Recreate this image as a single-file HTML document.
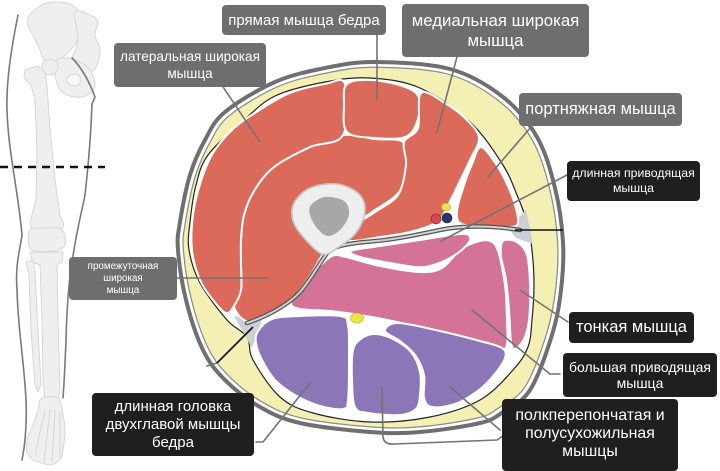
<!DOCTYPE html>
<html><head><meta charset="utf-8"><style>
html,body{margin:0;padding:0;background:#fff;}
body{width:720px;height:468px;overflow:hidden;position:relative;font-family:"Liberation Sans",Arial,sans-serif;}
svg{position:absolute;left:0;top:0;}
.b{position:absolute;color:#fff;text-align:center;border-radius:4px;display:flex;flex-direction:column;justify-content:center;align-items:center;white-space:nowrap;}
.g{background:#6e6e6e;}
.k{background:#1f1f1f;}
</style></head><body>
<svg width="720" height="468" viewBox="0 0 720 468" xmlns="http://www.w3.org/2000/svg">
<!-- leg skeleton -->
<g fill="#efefef" stroke="#d6d6d6" stroke-width="1">
<polygon class="s" points="28,18 40,6 55,2 72,5 80,15 80,35 72,48 62,58 52,62 44,60 38,45 30,30"/>
<polygon class="s" points="75,12 90,15 98,22 95,35 100,50 97,65 90,72 80,70 72,60 78,40"/>
<polygon class="s" points="55,62 65,58 80,62 90,70 95,85 88,95 75,97 62,92 56,80"/>
<ellipse cx="74" cy="80" rx="7" ry="6" fill="#f8f8f8"/>
<circle cx="50" cy="67" r="8"/>
<polygon points="25,70 38,66 45,72 47,85 50,130 55,180 60,215 64,225 60,232 45,235 32,232 30,222 36,200 37,150 35,100 31,85 24,78"/>
<polygon class="s" points="30,230 46,228 62,230 65,245 55,251 35,251 29,245"/>
<polygon points="30,252 63,252 62,262 57,265 58,320 60,390 58,400 45,400 43,380 42,320 40,265 32,262"/>
<polygon points="26,262 33,260 35,270 38,330 41,385 38,392 35,385 31,330 29,275"/>
<polygon class="s" points="42,398 58,398 62,410 65,430 62,455 57,462 50,465 42,463 33,460 27,452 27,440 33,425 38,410"/>
</g>
<g stroke="#d6d6d6" stroke-width="1" fill="none">
<path d="M45,410 L35,455 M50,410 L44,462 M55,410 L52,463 M60,412 L60,458"/>
</g>
<g stroke="#7a7a7a" stroke-width="1.6" fill="none" stroke-linecap="round">
<path d="M18,15 C12,45 6,80 7,110 C8,150 18,190 22,235 C20,250 15,265 17,290 C18,330 24,360 26,400 C27,425 25,445 22,460"/>
<path d="M72,58 C80,66 88,78 95,97 L92,104 C91,130 89,160 85,195 C81,215 77,230 74,250 C70,270 67,300 66,340 C65,365 64,385 63,398"/>
</g>
<line x1="0" y1="167" x2="105" y2="167" stroke="#111" stroke-width="2.5" stroke-dasharray="8 6"/>

<!-- cross-section rings -->
<polygon class="s" fill="#fff" stroke="#6f6f6f" stroke-width="4" stroke-linejoin="round" points="375,62 450,69 503,97 537,137 555,188 563,242 561,290 552,335 530,390 503,412 480,423 420,432 370,432 300,423 260,407 225,380 203,350 186,300 178,250 180,222 190,175 205,140 225,112 275,82 325,68"/>
<polygon class="s" fill="#f4f0b4" stroke="#8c8c8c" stroke-width="1.3" transform="translate(371 250) scale(0.972) translate(-371 -250)" points="375,62 450,69 503,97 537,137 555,188 563,242 561,290 552,335 530,390 503,412 480,423 420,432 370,432 300,423 260,407 225,380 203,350 186,300 178,250 180,222 190,175 205,140 225,112 275,82 325,68"/>
<polygon class="s" fill="#fff" stroke="#222" stroke-width="1.2" points="370,78 420,88 470,122 503,165 517,195 527,222 532,250 534,285 532,320 528,347 513,370 480,400 430,417 370,422 313,413 280,397 253,360 247,337 227,320 200,283 189,250 190,222 196,185 208,155 242,122 275,96 325,82"/>

<!-- gray fascia triangles -->
<polygon fill="#cbd0d3" points="508,228 526,210 533,244 516,238"/>
<polygon fill="#cbd0d3" points="234,316 262,320 252,348"/>

<!-- muscles -->
<g stroke="#fff" stroke-width="2" stroke-linejoin="round">
<!-- vastus intermedius -->
<polygon class="s" fill="#db6a5a" points="343,135 375,139 403,142 406,165 399,192 372,212 358,222 335,244 323,254 310,276 290,302 266,317 246,321 234,306 241,290 241,265 241,240 244,215 254,191 274,167 310,147"/>
<!-- vastus lateralis -->
<polygon class="s" fill="#db6a5a" points="345,84 325,84 290,93 258,111 233,129 213,153 201,181 193,215 192,250 200,280 213,300 226,313 234,306 241,290 241,265 241,240 244,215 254,191 274,167 310,147 343,135"/>
<!-- rectus femoris -->
<polygon class="s" fill="#db6a5a" points="347,84 372,80 405,87 419,98 417,122 405,137 375,138 347,132 344,105"/>
<!-- vastus medialis -->
<polygon class="s" fill="#db6a5a" points="421,93 445,103 467,120 479,138 470,160 458,185 448,205 437,222 410,232 380,237 352,241 346,236 360,222 375,212 398,195 406,165 404,142 418,128"/>
<!-- sartorius -->
<polygon class="s" fill="#db6a5a" points="481,147 496,164 507,184 515,205 518,223 510,227 490,226 462,224 457,212 463,188 472,164"/>
<!-- adductor magnus -->
<polygon class="s" fill="#d37398" points="332,256 346,257 380,266 420,272 442,268 460,250 476,242 490,241 498,251 505,285 507,320 507,344 500,349 470,339 430,330 397,322 360,315 330,311 300,309 291,303 300,290 316,270"/>
<!-- adductor longus -->
<polygon class="s" fill="#d37398" points="351,251 380,246 420,240 460,234 470,237 466,246 450,258 430,266 415,267 390,263 360,257"/>
<!-- gracilis -->
<polygon class="s" fill="#d37398" points="503,241 517,242 527,255 530,285 529,320 524,339 515,349 511,342 509,310 506,280 501,256"/>
<!-- biceps femoris -->
<polygon class="s" fill="#8b76b7" points="258,331 272,319 300,316 340,316 348,325 349,360 348,400 343,409 320,406 295,395 275,380 262,360 256,343"/>
<!-- semitendinosus -->
<polygon class="s" fill="#8b76b7" points="353,350 362,338 375,334 393,339 411,352 420,372 420,395 416,409 400,415 368,413 355,407 352,380"/>
<!-- semimembranosus -->
<polygon class="s" fill="#8b76b7" points="385,331 398,323 440,331 480,341 502,348 505,358 494,375 479,390 455,404 432,407 424,398 424,375 415,355 400,341"/>
</g>

<!-- fascia lines -->
<path d="M247,323 C262,318 285,308 300,292 C312,278 320,262 328,252 C336,246 345,244 365,242 C395,240 420,234 445,229 C470,225 495,226 520,230" fill="none" stroke="#555" stroke-width="4.5" stroke-linecap="round"/>
<path d="M247,323 C262,318 285,308 300,292 C312,278 320,262 328,252 C336,246 345,244 365,242 C395,240 420,234 445,229 C470,225 495,226 520,230" fill="none" stroke="#cfd3d6" stroke-width="2" stroke-linecap="round"/>

<!-- bone -->
<polygon class="s" fill="#eeeeee" stroke="#c4c4c4" stroke-width="1.6" points="294,203 310,188 337,184 359,194 365,212 356,233 336,249 322,254 304,238 293,221"/>
<polygon class="s" fill="#a7a7a7" points="311,205 325,197 344,201 349,214 341,229 328,236 317,228 310,215"/>

<!-- vessels / nerves -->
<ellipse cx="446" cy="207" rx="4.6" ry="3.8" fill="#ede545" stroke="#b8ad20" stroke-width="0.6"/>
<circle cx="436" cy="219" r="5" fill="#e0434f" stroke="#6a2a30" stroke-width="0.6"/>
<circle cx="447" cy="218" r="5" fill="#2c3462" stroke="#1a1f3a" stroke-width="0.6"/>
<ellipse cx="357" cy="318" rx="6.5" ry="5" fill="#ede545" stroke="#b8ad20" stroke-width="0.6"/>

<!-- connectors -->
<g stroke="#737373" stroke-width="1.6" fill="none" stroke-linecap="round" stroke-linejoin="round">
<path d="M215,75 L260,142"/>
<path d="M377,25 L377,100"/>
<path d="M462,38 L437,132"/>
<path d="M537,120 L488,177"/>
<path d="M567,175 L441,241"/>
<path d="M172,278 L268,278"/>
<path d="M520,290 L568,322"/>
<path d="M472,310 L550,374 L560,374"/>
<path d="M310,383 L263,442 L256,442"/>
<path d="M450,387 L500,430"/>
<path d="M382,388 L383,437 Q384,445 395,444 L497,440 L503,436"/>
<path d="M217,363 L207,366"/>
</g>
<g stroke="#111" stroke-width="1.6" fill="none">
<path d="M515,230 L563,230"/>
<path d="M253,327 L217,363"/>
</g>
</svg>

<div class="b g" style="left:222px;top:5px;width:164px;height:30px;font-size:15px;">прямая мышца бедра</div>
<div class="b g" style="left:114px;top:43px;width:152px;height:44px;font-size:13.6px;line-height:17px;">латеральная широкая<br>мышца</div>
<div class="b g" style="left:402px;top:4px;width:187px;height:53px;font-size:16.8px;line-height:20px;">медиальная широкая<br>мышца</div>
<div class="b g" style="left:519px;top:93px;width:163px;height:33px;font-size:16.5px;">портняжная мышца</div>
<div class="b k" style="left:567px;top:161px;width:133px;height:40px;font-size:12.3px;line-height:15px;">длинная приводящая<br>мышца</div>
<div class="b g" style="left:69px;top:257px;width:108px;height:43px;font-size:9.8px;line-height:12px;">промежуточная<br>широкая<br>мышца</div>
<div class="b k" style="left:92px;top:393px;width:162px;height:63px;font-size:15px;line-height:18px;">длинная головка<br>двухглавой мышцы<br>бедра</div>
<div class="b k" style="left:569px;top:312px;width:125px;height:31px;font-size:16.5px;">тонкая мышца</div>
<div class="b k" style="left:563px;top:353px;width:154px;height:44px;font-size:14px;line-height:16px;">большая приводящая<br>мышца</div>
<div class="b k" style="left:502px;top:399px;width:176px;height:72px;font-size:15.9px;line-height:18px;justify-content:flex-start;padding-top:8px;box-sizing:border-box;">полкперепончатая и<br>полусухожильная<br>мышцы</div>

<script>
document.querySelectorAll('polygon.s').forEach(function(p){
  var a=p.getAttribute('points').trim().split(/\s+/).map(function(t){return t.split(',').map(Number);});
  var n=a.length;
  function f(v){return Math.round(v*100)/100;}
  var d='M'+a[0][0]+','+a[0][1];
  for(var i=0;i<n;i++){
    var p0=a[(i-1+n)%n],p1=a[i],p2=a[(i+1)%n],p3=a[(i+2)%n];
    var c1x=p1[0]+(p2[0]-p0[0])/6,c1y=p1[1]+(p2[1]-p0[1])/6;
    var c2x=p2[0]-(p3[0]-p1[0])/6,c2y=p2[1]-(p3[1]-p1[1])/6;
    d+=' C'+f(c1x)+','+f(c1y)+' '+f(c2x)+','+f(c2y)+' '+p2[0]+','+p2[1];
  }
  d+='Z';
  var path=document.createElementNS('http://www.w3.org/2000/svg','path');
  for(var j=0;j<p.attributes.length;j++){var at=p.attributes[j];if(at.name!=='points'&&at.name!=='class')path.setAttribute(at.name,at.value);}
  path.setAttribute('d',d);
  p.parentNode.replaceChild(path,p);
});
</script>
</body></html>
